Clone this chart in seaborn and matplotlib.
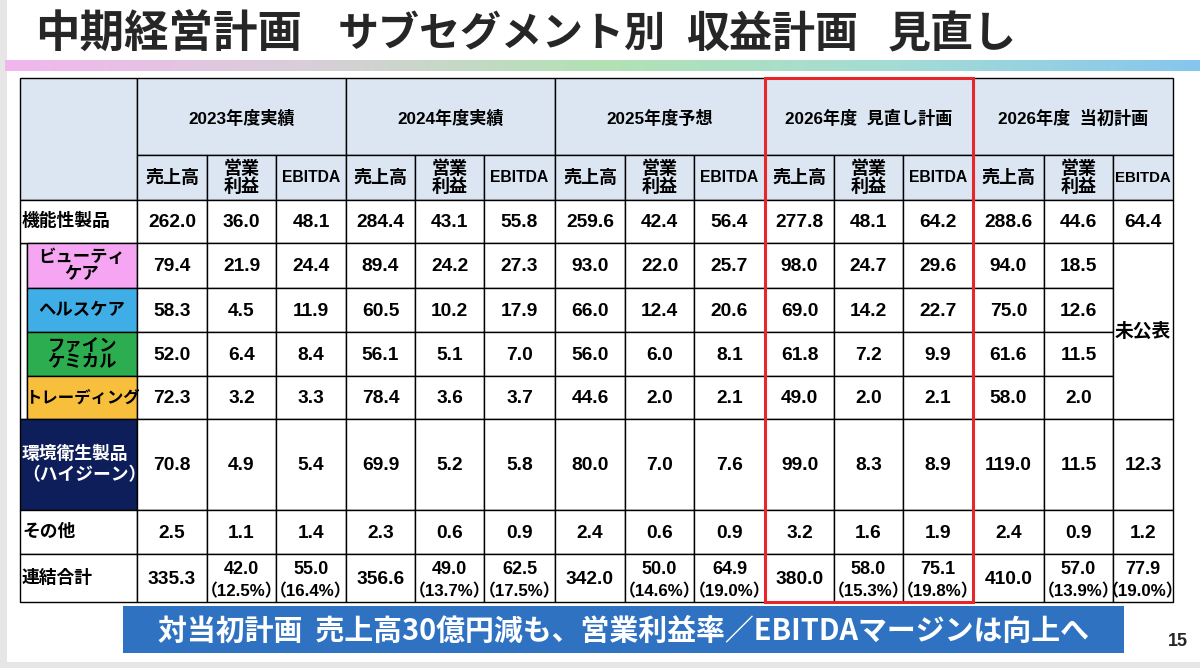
import numpy as np
import matplotlib
matplotlib.use("Agg")
import matplotlib.pyplot as plt
from matplotlib.patches import Rectangle
from matplotlib.colors import LinearSegmentedColormap
import seaborn as sns

# data
periods = ["2023年度実績", "2024年度実績", "2025年度予想", "2026年度  見直し計画", "2026年度  当初計画"]
metrics = ["売上高", "営業\n利益", "EBITDA"]
segments = ["機能性製品", "ビューティ\nケア", "ヘルスケア", "ファイン\nケミカル", "トレーディング",
            "環境衛生製品\n（ハイジーン）", "その他", "連結合計"]

sales = [
    [262.0, 79.4, 58.3, 52.0, 72.3, 70.8, 2.5, 335.3],
    [284.4, 89.4, 60.5, 56.1, 78.4, 69.9, 2.3, 356.6],
    [259.6, 93.0, 66.0, 56.0, 44.6, 80.0, 2.4, 342.0],
    [277.8, 98.0, 69.0, 61.8, 49.0, 99.0, 3.2, 380.0],
    [288.6, 94.0, 75.0, 61.6, 58.0, 119.0, 2.4, 410.0],
]
op_income = [
    [36.0, 21.9, 4.5, 6.4, 3.2, 4.9, 1.1, 42.0],
    [43.1, 24.2, 10.2, 5.1, 3.6, 5.2, 0.6, 49.0],
    [42.4, 22.0, 12.4, 6.0, 2.0, 7.0, 0.6, 50.0],
    [48.1, 24.7, 14.2, 7.2, 2.0, 8.3, 1.6, 58.0],
    [44.6, 18.5, 12.6, 11.5, 2.0, 11.5, 0.9, 57.0],
]
ebitda = [
    [48.1, 24.4, 11.9, 8.4, 3.3, 5.4, 1.4, 55.0],
    [55.8, 27.3, 17.9, 7.0, 3.7, 5.8, 0.9, 62.5],
    [56.4, 25.7, 20.6, 8.1, 2.1, 7.6, 0.9, 64.9],
    [64.2, 29.6, 22.7, 9.9, 2.1, 8.9, 1.9, 75.1],
    [64.4, None, None, None, None, 12.3, 1.2, 77.9],
]
op_margin = [12.5, 13.7, 14.6, 15.3, 13.9]
ebitda_margin = [16.4, 17.5, 19.0, 19.8, 19.0]

title_parts = ["中期経営計画", "サブセグメント別", "収益計画", "見直し"]
banner = "対当初計画  売上高30億円減も、営業利益率／EBITDAマージンは向上へ"
not_disclosed = "未公表"
page_no = "15"

sns.set_theme(style="white")
plt.rcParams['font.family'] = ['Liberation Sans', 'Noto Sans CJK JP', 'DejaVu Sans']
JP = ['Noto Sans CJK JP', 'DejaVu Sans']
NUM = ['Liberation Sans', 'Noto Sans CJK JP']

fig = plt.figure(figsize=(12, 6.68), dpi=100)
ax = fig.add_axes([0, 0, 1, 1])
ax.set_xlim(0, 1200)
ax.set_ylim(668, 0)
ax.axis('off')

# page frame
ax.add_patch(Rectangle((0, 0), 7, 668, color='#e6e6e6', lw=0))
ax.add_patch(Rectangle((0, 662), 1200, 6, color='#e6e6e6', lw=0))

for part, x, fs in zip(title_parts, [35, 338, 686, 888], [32, 29.5, 31, 31]):
    ax.text(x, 34, part, family=JP, fontsize=fs, weight='bold', va='center', ha='left')

grad = LinearSegmentedColormap.from_list('bar', ['#f2b6ee', '#d9cfd9', '#b2e2b4', '#a3dcd6', '#86c6ee'])
ax.imshow(np.linspace(0, 1, 256)[None, :], cmap=grad, aspect='auto',
          extent=(5, 1200, 71, 60), zorder=1)

# table layout
col_x = [137, 207, 276, 346, 415, 484, 555, 625, 694, 765, 834, 903, 973, 1044, 1113, 1173]
row_y = [78, 155, 200, 243, 288, 332, 376, 419, 510, 554, 602]
left = 20
hdr_bg = '#dce6f2'
seg_bg = [None, '#f5a5f1', '#40aee6', '#2cae50', '#f8bf3c', '#0e1e5b', None, None]
seg_fg = ['black', 'black', 'black', 'black', 'black', 'white', 'black', 'black']
seg_size = [12.8, 12.5, 12.5, 12.5, 11.8, 12.8, 12.8, 12.8]


def cell(x0, x1, y0, y1, bg='white', lw=1.0):
    ax.add_patch(Rectangle((x0, y0), x1 - x0, y1 - y0, facecolor=bg,
                           edgecolor='black', lw=lw, zorder=2))


def txt(x, y, s, fam=NUM, size=13, ha='center', color='black', weight='bold', ls=1.0):
    ax.text(x, y, s, family=fam, fontsize=size, ha=ha, va='center', color=color,
            weight=weight, linespacing=ls, zorder=4)


# header
cell(left, col_x[0], row_y[0], row_y[2], hdr_bg)
for p, name in enumerate(periods):
    x0, x1 = col_x[3 * p], col_x[3 * p + 3]
    cell(x0, x1, row_y[0], row_y[1], hdr_bg)
    txt((x0 + x1) / 2, (row_y[0] + row_y[1]) / 2 + 2, name, fam=NUM, size=12.3)
    for m, mname in enumerate(metrics):
        cx0, cx1 = col_x[3 * p + m], col_x[3 * p + m + 1]
        cell(cx0, cx1, row_y[1], row_y[2], hdr_bg)
        if mname == "EBITDA":
            size = 11.3 if cx1 - cx0 > 65 else 10.8
            txt((cx0 + cx1) / 2, (row_y[1] + row_y[2]) / 2, mname, fam=NUM, size=size)
        else:
            txt((cx0 + cx1) / 2, (row_y[1] + row_y[2]) / 2, mname, fam=JP, size=13, ls=0.9)

# segment label column
ax.add_patch(Rectangle((left, row_y[3]), 7, row_y[7] - row_y[3], facecolor='white',
                       edgecolor='black', lw=1.0, zorder=2))
for r, seg in enumerate(segments):
    y0, y1 = row_y[r + 2], row_y[r + 3]
    ym = (y0 + y1) / 2
    if seg_bg[r] is not None and r < 5:
        cell(27, col_x[0], y0, y1, seg_bg[r])
        txt((27 + col_x[0]) / 2, ym, seg, fam=JP, size=seg_size[r], color=seg_fg[r], ls=0.95)
    else:
        cell(left, col_x[0], y0, y1, seg_bg[r] if seg_bg[r] else 'white')
        txt(left + 2, ym, seg, fam=JP, size=seg_size[r], ha='left', color=seg_fg[r], ls=1.2)

# values
last = len(segments) - 1
for p in range(len(periods)):
    cols = [sales[p], op_income[p], ebitda[p]]
    margins = [None, op_margin[p], ebitda_margin[p]]
    for m in range(3):
        cx0, cx1 = col_x[3 * p + m], col_x[3 * p + m + 1]
        cxm = (cx0 + cx1) / 2
        for r in range(len(segments)):
            v = cols[m][r]
            y0, y1 = row_y[r + 2], row_y[r + 3]
            if v is None:
                continue
            cell(cx0, cx1, y0, y1)
            if r == last and margins[m] is not None:
                txt(cxm, y0 + 16, f"{v:.1f}", size=13.0)
                txt(cxm, y1 - 11, f"（{margins[m]:.1f}%）", size=12.2)
            else:
                txt(cxm, (y0 + y1) / 2 + 1, f"{v:.1f}", size=13.8)
        if any(v is None for v in cols[m]):
            missing = [r for r, v in enumerate(cols[m]) if v is None]
            y0, y1 = row_y[missing[0] + 2], row_y[missing[-1] + 3]
            cell(cx0, cx1, y0, y1)
            txt(cxm, (y0 + y1) / 2, not_disclosed, fam=JP, size=13.5)

# highlight of the revised plan
ax.add_patch(Rectangle((col_x[9], row_y[0]), col_x[12] - col_x[9], row_y[-1] - row_y[0],
                       facecolor='none', edgecolor='#e8262a', lw=2.2, zorder=5))

# bottom message
ax.add_patch(Rectangle((123, 606), 1001, 47, facecolor='#2f72c2', lw=0, zorder=2))
ax.text(623, 631, banner, family=JP, fontsize=20.8, weight='bold', color='white',
        ha='center', va='center', zorder=4)
ax.text(1178, 641, page_no, family=NUM, fontsize=13, weight='bold', ha='center', va='center')

fig.savefig('out.png', dpi=100)
